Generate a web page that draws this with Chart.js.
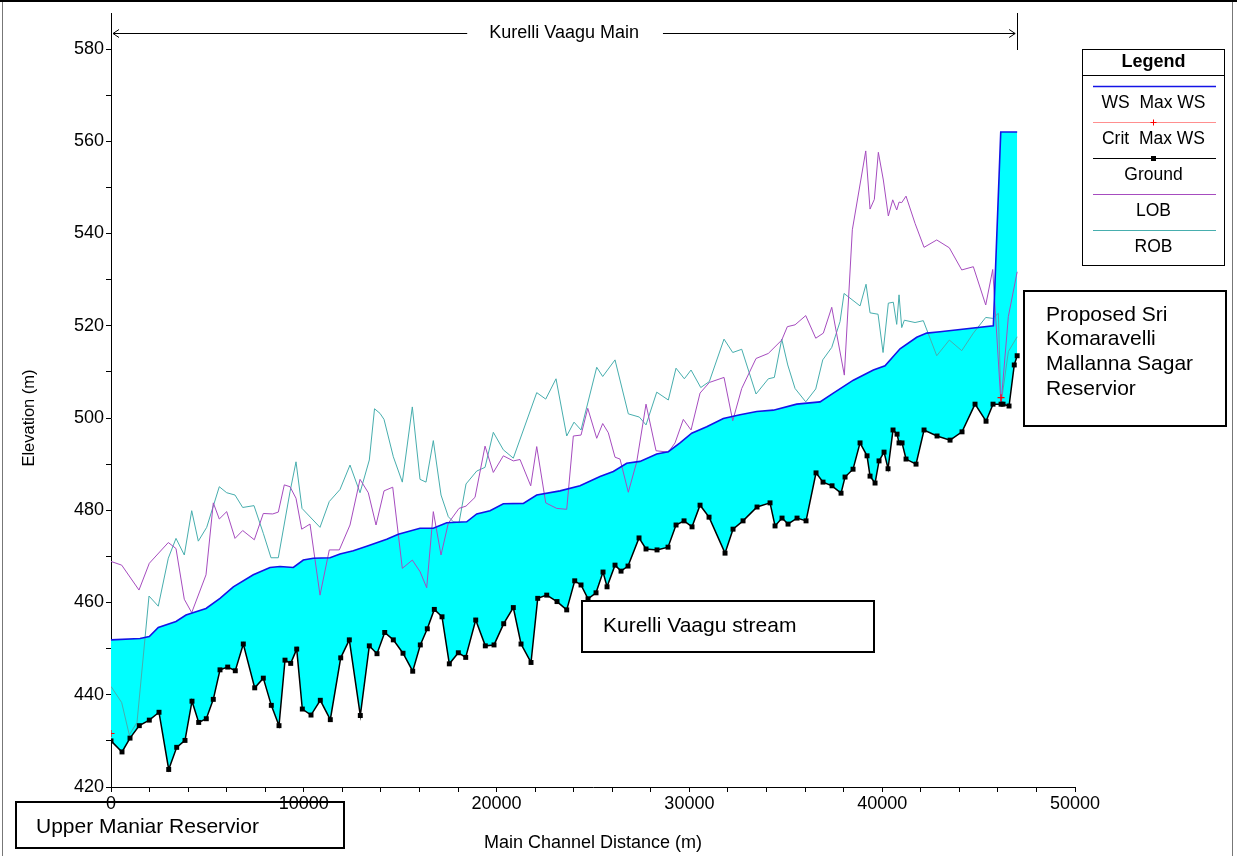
<!DOCTYPE html>
<html>
<head>
<meta charset="utf-8">
<title>Kurelli Vaagu Main - Profile</title>
<script src="https://cdn.jsdelivr.net/npm/chart.js@4.4.0/dist/chart.umd.min.js"></script>
<style>
  html, body { margin: 0; padding: 0; background: #ffffff; overflow: hidden; }
  #wrap { position: relative; width: 1237px; height: 856px; }
  canvas { display: block; }
</style>
</head>
<body>
<div id="wrap"><canvas id="profile" width="1237" height="856"></canvas></div>
<script>
// Main channel stations (m) and elevations (m)
const groundDist = [0, 571, 986, 1468, 1987, 2490, 2993, 3408, 3838, 4201, 4549, 4943, 5306, 5654, 6053, 6447, 6862, 7454, 7900, 8315,
  8714, 9025, 9321, 9632, 9923, 10374, 10856, 11375, 11915, 12361, 12931, 13398, 13797, 14197, 14643, 15146, 15649, 16043, 16406, 16770,
  17169, 17548, 18015, 18398, 18917, 19415, 19866, 20369, 20867, 21267, 21785, 22133, 22600, 23134, 23637, 24052, 24379, 24742, 25157, 25520,
  25728, 26142, 26454, 26817, 27387, 27750, 28321, 28892, 29307, 29722, 30137, 30552, 31019, 31848, 32263, 32782, 33508, 34182, 34442, 34805,
  35116, 35583, 36050, 36568, 36931, 37398, 37865, 38073, 38488, 38851, 39214, 39369, 39629, 39836, 40096, 40303, 40562, 40770, 40873, 41029,
  41236, 41755, 42170, 42845, 43519, 44141, 44815, 45386, 45749, 46164, 46268, 46579, 46850, 47000];
const groundElev = [430.0, 427.6, 430.6, 433.3, 434.5, 436.2, 423.8, 428.6, 430.1, 438.6, 434.0, 434.8, 439.0, 445.4, 446.0, 445.2, 451.0, 441.5, 443.6, 437.7,
  433.3, 447.5, 446.8, 449.9, 436.9, 435.6, 438.8, 434.6, 448.0, 451.9, 435.5, 450.6, 448.9, 453.5, 451.9, 449.0, 445.1, 450.8, 454.3, 458.5,
  456.9, 446.7, 449.1, 448.1, 456.2, 450.6, 450.8, 455.4, 458.9, 451.0, 447.0, 460.9, 461.6, 460.2, 458.4, 464.7, 463.8, 460.8, 462.1, 466.6,
  463.4, 468.1, 466.8, 467.9, 474.0, 471.6, 471.4, 472.0, 476.8, 477.7, 476.4, 481.1, 478.5, 470.7, 475.9, 477.7, 480.7, 481.6, 476.6, 478.3,
  477.0, 478.3, 477.7, 488.1, 486.1, 485.3, 483.7, 487.2, 488.9, 494.6, 491.8, 487.4, 485.9, 490.7, 492.6, 489.0, 497.4, 496.5, 494.6, 494.6,
  491.1, 490.0, 497.4, 496.1, 495.2, 497.0, 503.0, 499.3, 503.0, 503.0, 503.0, 502.6, 511.5, 513.5];

const wsDist = [0, 1504, 1987, 2453, 3372, 3890, 4928, 5654, 6344, 7381, 8247, 8766, 9456, 9975, 10493, 11360, 11878, 12568, 13263, 14301,
  14902, 16028, 16718, 17413, 18450, 18969, 19659, 20349, 21386, 22081, 23290, 24327, 25364, 26055, 26749, 27439, 28306, 28907, 29514, 30121,
  30899, 31760, 32626, 33493, 34353, 35567, 36776, 37466, 38503, 39541, 40147, 40925, 41791, 42310, 43000, 45765, 46149, 47000];
const wsElev = [451.9, 452.2, 452.6, 454.6, 455.9, 457.3, 458.7, 460.9, 463.4, 466.0, 467.6, 467.8, 467.6, 469.2, 469.6, 469.7, 470.5, 471.2, 472.2, 473.7,
  474.8, 476.1, 476.1, 477.3, 477.5, 479.2, 479.9, 481.4, 481.5, 483.3, 484.2, 485.3, 487.3, 488.4, 490.2, 490.6, 492.2, 492.7, 494.6, 496.7,
  498.1, 499.9, 500.7, 501.4, 501.7, 503.0, 503.5, 505.4, 508.2, 510.4, 511.3, 515.0, 517.5, 518.4, 518.7, 520.0, 562.0, 562.0];

const critDist = [0, 46164];
const critElev = [431.6, 504.4];

const lobDist = [0, 555, 1452, 1987, 2972, 3372, 3802, 4186, 4928, 5306, 5617, 6001, 6432, 6831, 7433, 7900, 8387, 8678, 8989, 9285,
  9596, 9892, 10322, 10841, 11323, 11842, 12397, 12916, 13346, 13746, 14161, 14612, 15110, 15629, 16028, 16375, 16718, 17117, 17496, 18051,
  18414, 18881, 19400, 19830, 20349, 20867, 21215, 21770, 22081, 22548, 23118, 23637, 23980, 24379, 24727, 25193, 25504, 25795, 26142, 26402,
  26832, 27268, 27750, 28269, 28907, 29255, 29685, 30085, 30552, 31034, 31796, 32247, 32714, 33456, 34094, 34790, 35080, 35480, 36034, 36553,
  36947, 37383, 38036, 38451, 39146, 39369, 39592, 39800, 40059, 40318, 40546, 40753, 40873, 41013, 41236, 41703, 42170, 42829, 43482, 44126,
  44727, 45370, 45733, 46164, 46543, 47000];
const lobElev = [468.9, 468.1, 462.7, 468.5, 473.0, 471.7, 460.7, 457.8, 466.0, 481.6, 478.1, 479.7, 473.9, 475.6, 473.6, 479.3, 479.2, 479.6, 485.5, 485.1,
  482.6, 475.9, 477.0, 461.6, 471.4, 471.4, 476.8, 486.7, 483.8, 476.8, 484.2, 485.0, 467.4, 469.2, 466.7, 463.2, 479.7, 470.3, 477.2, 480.4,
  480.9, 482.8, 493.9, 488.2, 491.8, 490.7, 491.0, 485.3, 493.8, 481.6, 480.4, 480.2, 496.1, 496.3, 502.1, 495.6, 498.8, 496.8, 491.5, 491.1,
  483.9, 490.5, 503.0, 492.9, 492.6, 494.6, 499.7, 497.4, 505.4, 507.7, 508.8, 499.4, 506.4, 512.9, 514.0, 516.9, 519.8, 520.2, 522.2, 517.3,
  518.4, 524.0, 509.3, 540.8, 557.9, 545.3, 547.4, 557.6, 551.6, 543.8, 547.3, 545.1, 546.8, 546.7, 548.1, 542.2, 537.0, 538.6, 536.9, 532.1,
  532.8, 524.5, 532.2, 503.0, 522.0, 531.7];

const robDist = [0, 555, 949, 1349, 1971, 2453, 2972, 3372, 3802, 4186, 4528, 4964, 5617, 6001, 6432, 6831, 7417, 7900, 8299, 8678,
  9285, 9596, 9907, 10841, 11323, 11878, 12397, 12916, 13398, 13668, 13953, 14161, 14643, 15110, 15629, 16028, 16339, 16718, 17117, 17496,
  17755, 18051, 18414, 18969, 19400, 19830, 20349, 20867, 22081, 22548, 23082, 23637, 24016, 24379, 25193, 25504, 26142, 26832, 27403, 27750,
  28306, 28907, 29307, 29737, 30085, 30588, 31034, 31796, 32247, 32714, 33456, 34094, 34405, 34790, 35101, 35480, 36034, 36553, 36916, 37383,
  37813, 38021, 38851, 39162, 39369, 39785, 40044, 40318, 40577, 40753, 40873, 41013, 41148, 41703, 42133, 42829, 43482, 44126, 44727, 45370,
  45733, 46024, 46164, 46543, 47000];
const robElev = [441.8, 438.3, 431.3, 434.0, 461.4, 459.2, 469.6, 473.9, 470.3, 479.9, 473.3, 476.3, 485.1, 483.8, 483.3, 480.6, 481.0, 475.0, 469.7, 469.7,
  484.0, 490.5, 480.4, 476.3, 481.9, 484.5, 489.8, 483.8, 490.9, 502.0, 501.0, 499.7, 491.6, 486.1, 502.4, 486.7, 486.1, 495.1, 483.3, 478.6,
  477.5, 477.3, 485.7, 488.5, 489.3, 496.9, 493.1, 491.3, 505.5, 504.1, 508.5, 496.1, 499.1, 497.4, 511.0, 509.0, 512.6, 500.9, 500.2, 498.5,
  505.6, 503.9, 510.8, 508.5, 510.4, 506.6, 507.9, 517.1, 514.2, 514.9, 505.2, 508.5, 508.8, 517.1, 511.5, 506.4, 503.5, 506.3, 512.6, 515.3,
  520.9, 527.0, 524.3, 529.0, 522.8, 522.5, 514.2, 524.9, 525.1, 520.3, 526.7, 519.6, 521.2, 520.7, 521.1, 513.5, 516.9, 514.6, 518.4, 521.8,
  521.6, 522.7, 503.0, 514.4, 517.6];

// Axis ticks
const xTickValues = [0, 2000, 4000, 6000, 8000, 10000, 12000, 14000, 16000, 18000, 20000, 22000, 24000, 26000, 28000, 30000,
  32000, 34000, 36000, 38000, 40000, 42000, 44000, 46000, 48000, 50000];
const xTickLabels = ['0', '10000', '20000', '30000', '40000', '50000'];
const yTickValues = [420, 430, 440, 450, 460, 470, 480, 490, 500, 510, 520, 530, 540, 550, 560, 570, 580];
const yTickLabels = ['420', '440', '460', '480', '500', '520', '540', '560', '580'];

// Legend entries and map notes
const legendNames = ['WS  Max WS', 'Crit  Max WS', 'Ground', 'LOB', 'ROB'];
const reachName = 'Kurelli Vaagu Main';
const upstreamNote = ['Upper Maniar Reservior'];
const streamNote = ['Kurelli Vaagu stream'];
const reservoirNote = ['Proposed Sri', 'Komaravelli', 'Mallanna Sagar', 'Reservior'];

const FONT = '"Liberation Sans", Arial, sans-serif';
const COLORS = {
  ws: '#1414e6',
  wsFill: '#00ffff',
  crit: '#ff0000',
  critLegend: '#ff8f8f',
  ground: '#000000',
  lob: '#a64cbf',
  rob: '#47aeae'
};

function pairs(xs, ys) {
  return xs.map((x, i) => ({ x: x, y: ys[i] }));
}

function textBox(ctx, lines, box, opt) {
  ctx.save();
  if (opt.fill) {
    ctx.fillStyle = '#ffffff';
    ctx.fillRect(box.x, box.y, box.w, box.h);
  }
  ctx.lineWidth = opt.border;
  ctx.strokeStyle = '#000000';
  ctx.strokeRect(box.x, box.y, box.w, box.h);
  ctx.fillStyle = '#000000';
  ctx.font = opt.size + 'px ' + FONT;
  ctx.textAlign = 'left';
  ctx.textBaseline = 'middle';
  lines.forEach((t, i) => ctx.fillText(t, opt.tx, opt.ty + i * opt.lh));
  ctx.restore();
}

const decorations = {
  id: 'decorations',
  beforeDraw(chart) {
    const ctx = chart.ctx;
    ctx.save();
    ctx.fillStyle = '#ffffff';
    ctx.fillRect(0, 0, chart.width, chart.height);
    ctx.restore();
  },
  beforeDatasetsDraw(chart) {
    // The upstream note sits under the axis labels
    const ctx = chart.ctx;
    textBox(ctx, upstreamNote, { x: 16, y: 802, w: 328, h: 46 }, { fill: false, border: 2, size: 21, tx: 36, ty: 827, lh: 24 });
  },
  afterDraw(chart) {
    const ctx = chart.ctx;
    const xs = chart.scales.x;
    const ys = chart.scales.y;
    const x0 = xs.getPixelForValue(0);
    const xEnd = xs.getPixelForValue(groundDist[groundDist.length - 1]);
    const top = 13;
    const yTop = ys.getPixelForValue(580);

    // Reach extent markers and arrow
    ctx.save();
    ctx.strokeStyle = '#000000';
    ctx.lineWidth = 1;
    ctx.beginPath();
    ctx.moveTo(Math.round(x0) + 0.5, top);
    ctx.lineTo(Math.round(x0) + 0.5, yTop);
    ctx.moveTo(Math.round(xEnd) + 0.5, top);
    ctx.lineTo(Math.round(xEnd) + 0.5, yTop + 1);
    ctx.stroke();
    const ay = 33.5;
    ctx.font = '18px ' + FONT;
    ctx.textAlign = 'center';
    ctx.textBaseline = 'middle';
    const mid = (x0 + xEnd) / 2;
    const tw = ctx.measureText(reachName).width;
    ctx.beginPath();
    ctx.moveTo(x0 + 2, ay); ctx.lineTo(mid - tw / 2 - 22, ay);
    ctx.moveTo(mid + tw / 2 + 24, ay); ctx.lineTo(xEnd - 2, ay);
    ctx.moveTo(x0 + 8, ay - 4); ctx.lineTo(x0 + 2, ay); ctx.lineTo(x0 + 8, ay + 4);
    ctx.moveTo(xEnd - 8, ay - 4); ctx.lineTo(xEnd - 2, ay); ctx.lineTo(xEnd - 8, ay + 4);
    ctx.stroke();
    ctx.fillStyle = '#000000';
    ctx.fillText(reachName, mid, ay);
    ctx.restore();

    // Legend
    const L = { x: 1082.5, y: 49.5, w: 142, h: 216 };
    ctx.save();
    ctx.fillStyle = '#ffffff';
    ctx.fillRect(L.x, L.y, L.w, L.h);
    ctx.strokeStyle = '#000000';
    ctx.lineWidth = 1;
    ctx.strokeRect(L.x, L.y, L.w, L.h);
    ctx.beginPath();
    ctx.moveTo(L.x, 75.5); ctx.lineTo(L.x + L.w, 75.5);
    ctx.stroke();
    ctx.fillStyle = '#000000';
    ctx.textAlign = 'center';
    ctx.textBaseline = 'middle';
    ctx.font = 'bold 18px ' + FONT;
    ctx.fillText('Legend', L.x + L.w / 2, 62);
    ctx.font = '17.5px ' + FONT;
    const cx = L.x + L.w / 2;
    const sampleColors = [COLORS.ws, COLORS.critLegend, COLORS.ground, COLORS.lob, COLORS.rob];
    legendNames.forEach((name, i) => {
      const ly = 86.5 + i * 36;
      ctx.strokeStyle = sampleColors[i];
      ctx.lineWidth = i === 0 ? 1.5 : 1;
      ctx.beginPath();
      ctx.moveTo(1093, ly); ctx.lineTo(1216, ly);
      ctx.stroke();
      if (i === 1) {
        ctx.strokeStyle = COLORS.crit;
        ctx.beginPath();
        ctx.moveTo(cx - 3, ly); ctx.lineTo(cx + 3, ly);
        ctx.moveTo(cx, ly - 3); ctx.lineTo(cx, ly + 3);
        ctx.stroke();
      }
      if (i === 2) {
        ctx.fillStyle = '#000000';
        ctx.fillRect(cx - 2.5, ly - 2.5, 5, 5);
      }
      ctx.fillStyle = '#000000';
      ctx.fillText(name, cx, ly + 16.5);
    });
    ctx.restore();

    // Notes
    textBox(ctx, streamNote, { x: 582, y: 601, w: 292, h: 51 }, { fill: true, border: 2, size: 21, tx: 603, ty: 626, lh: 24 });
    textBox(ctx, reservoirNote, { x: 1024, y: 291, w: 202, h: 135 }, { fill: true, border: 2, size: 21, tx: 1046, ty: 315, lh: 24.6 });

    // Page frame
    ctx.save();
    ctx.fillStyle = '#000000';
    ctx.fillRect(0, 0, chart.width, 2);
    ctx.strokeStyle = '#777777';
    ctx.lineWidth = 1;
    ctx.beginPath();
    ctx.moveTo(2.5, 2); ctx.lineTo(2.5, chart.height);
    ctx.moveTo(1232.5, 2); ctx.lineTo(1232.5, chart.height);
    ctx.stroke();
    ctx.restore();
  }
};

const ctx = document.getElementById('profile').getContext('2d');
new Chart(ctx, {
  type: 'line',
  data: {
    datasets: [
      {
        label: 'Ground',
        data: pairs(groundDist, groundElev),
        borderColor: COLORS.ground,
        borderWidth: 1.5,
        pointStyle: 'rect',
        pointRadius: 3.5,
        pointBackgroundColor: COLORS.ground,
        pointBorderWidth: 0,
        fill: false
      },
      {
        label: 'Crit  Max WS',
        data: pairs(critDist, critElev),
        showLine: false,
        borderColor: COLORS.crit,
        pointStyle: 'cross',
        pointRadius: 3.5,
        pointBorderColor: COLORS.crit,
        pointBorderWidth: 1.2,
        fill: false
      },
      {
        label: 'WS  Max WS',
        data: pairs(wsDist, wsElev),
        borderColor: COLORS.ws,
        borderWidth: 1.6,
        pointRadius: 0,
        backgroundColor: COLORS.wsFill,
        fill: { target: 0, above: COLORS.wsFill, below: COLORS.wsFill }
      },
      {
        label: 'LOB',
        data: pairs(lobDist, lobElev),
        borderColor: COLORS.lob,
        borderWidth: 1,
        pointRadius: 0,
        fill: false
      },
      {
        label: 'ROB',
        data: pairs(robDist, robElev),
        borderColor: COLORS.rob,
        borderWidth: 1,
        pointRadius: 0,
        fill: false
      }
    ]
  },
  options: {
    responsive: false,
    animation: false,
    devicePixelRatio: 1,
    layout: { padding: { left: 0, right: 162, top: 49, bottom: 0 } },
    elements: { line: { tension: 0 } },
    plugins: {
      legend: { display: false },
      tooltip: { enabled: false },
      filler: { drawTime: 'beforeDatasetsDraw' }
    },
    scales: {
      x: {
        type: 'linear',
        min: 0,
        max: 50000,
        afterBuildTicks(scale) { scale.ticks = xTickValues.map(v => ({ value: v })); },
        afterFit(scale) { scale.height = 69; },
        ticks: {
          autoSkip: false,
          maxRotation: 0,
          padding: 1,
          color: '#000000',
          font: { family: FONT, size: 18 },
          callback: v => (xTickLabels.includes(String(v)) ? String(v) : '')
        },
        grid: { drawOnChartArea: false, drawTicks: true, tickLength: 5, color: '#000000' },
        border: { display: true, color: '#000000', width: 1 },
        title: {
          display: true,
          text: 'Main Channel Distance (m)',
          color: '#000000',
          font: { family: FONT, size: 18 },
          padding: { top: 0, bottom: 2 }
        }
      },
      y: {
        type: 'linear',
        min: 420,
        max: 580,
        afterBuildTicks(scale) { scale.ticks = yTickValues.map(v => ({ value: v })); },
        afterFit(scale) { scale.width = 111; },
        ticks: {
          autoSkip: false,
          padding: 2,
          color: '#000000',
          font: { family: FONT, size: 18 },
          callback: v => (yTickLabels.includes(String(v)) ? String(v) : '')
        },
        grid: { drawOnChartArea: false, drawTicks: true, tickLength: 5, color: '#000000' },
        border: { display: true, color: '#000000', width: 1 },
        title: {
          display: true,
          text: 'Elevation (m)',
          color: '#000000',
          font: { family: FONT, size: 16.5 },
          padding: { top: 20, bottom: 0 }
        }
      }
    }
  },
  plugins: [decorations]
});
</script>
</body>
</html>
